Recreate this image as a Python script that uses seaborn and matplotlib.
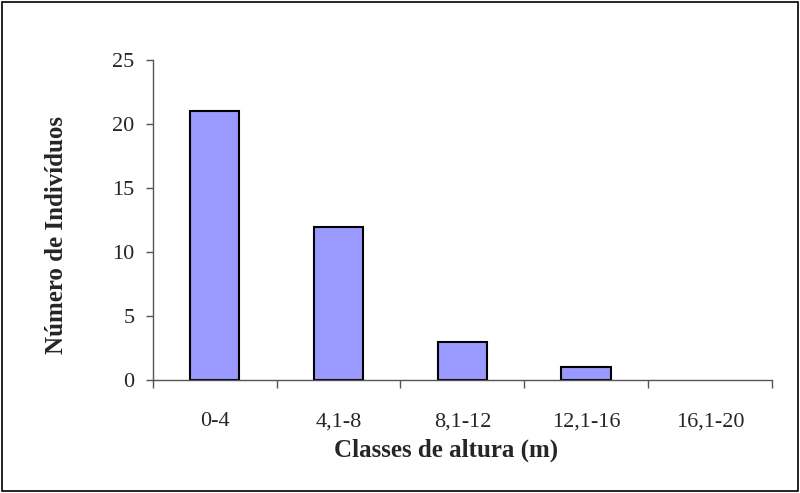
import matplotlib.pyplot as plt
import matplotlib.patches as mpatches
import seaborn as sns
import pandas as pd
import numpy as np

sns.set_style("white")
plt.rcParams["font.family"] = ["Liberation Serif", "DejaVu Serif"]

classes = ["0-4", "4,1-8", "8,1-12", "12,1-16", "16,1-20"]
individuos = [21, 12, 3, 1, 0]

df = pd.DataFrame({"Classe": classes, "N": individuos})

fig = plt.figure(figsize=(8, 4.93), dpi=100)
ax = fig.add_axes([0.191, 0.229, 0.774, 0.649])

sns.barplot(data=df, x="Classe", y="N", color="#9999FF", saturation=1,
            width=0.4, edgecolor="black", linewidth=1.5, ax=ax)

# empty classes show no bar outline
for bar, v in zip(ax.patches, individuos):
    if v == 0:
        bar.set_linewidth(0)

ax.set_xlim(-0.5, len(classes) - 0.5)
ax.set_ylim(0, 25)
ax.set_yticks(np.arange(0, 26, 5))

# ticks between categories, labels at category centers
ax.set_xticks(np.arange(-0.5, len(classes), 1.0))
ax.set_xticklabels([])
ax.set_xticks(np.arange(len(classes)), minor=True)
ax.set_xticklabels(classes, minor=True, fontsize=16)
ax.tick_params(axis="x", which="minor", bottom=True, length=0, pad=23)
ax.tick_params(axis="x", which="major", bottom=True, length=6, width=1, color="#555555", direction="out")
ax.tick_params(axis="y", left=True, length=5, width=1, color="#555555", direction="out", labelsize=16, pad=8)

for s in ["top", "right"]:
    ax.spines[s].set_visible(False)
for s in ["left", "bottom"]:
    ax.spines[s].set_color("#555555")
    ax.spines[s].set_linewidth(1)

ax.set_xlabel("Classes de altura (m)", fontsize=18, fontweight="bold")
ax.set_ylabel("Número de Indivíduos", fontsize=18, fontweight="bold")
ax.xaxis.set_label_coords(0.473, -0.184)
ax.yaxis.set_label_coords(-0.137, 0.453)

# outer frame around the figure
fig.patches.append(mpatches.Rectangle((0.003, 0.004), 0.994, 0.992, transform=fig.transFigure,
                                      fill=False, edgecolor="black", linewidth=1.2))

fig.savefig("out.png", dpi=100)
